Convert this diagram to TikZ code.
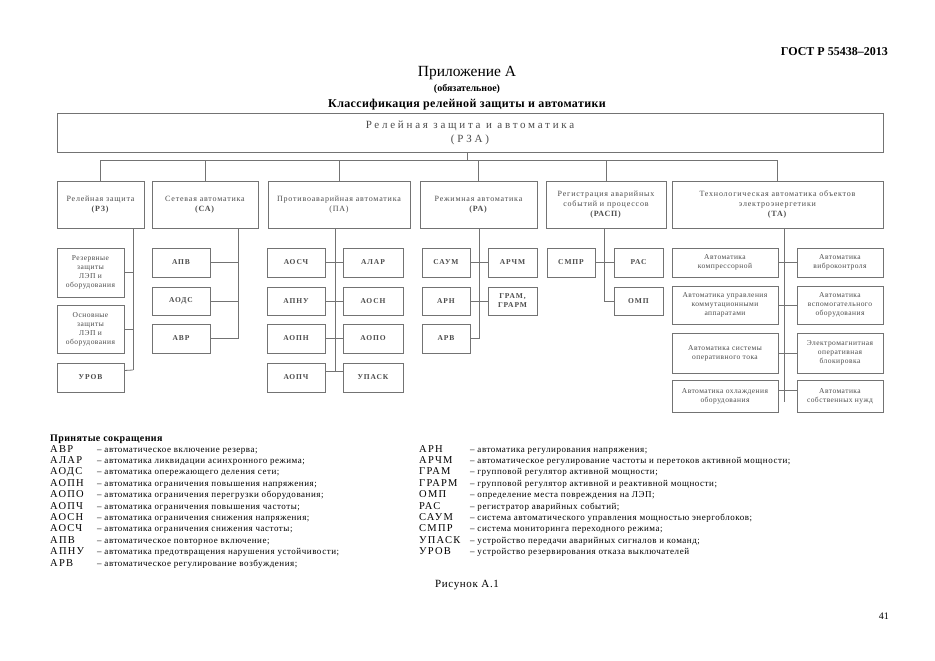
\documentclass[tikz,border=0pt]{standalone}
\usepackage{fontspec}
\setmainfont{Liberation Serif}
\definecolor{ln}{gray}{0.45}
\definecolor{tx}{gray}{0.3}
\newcommand\mybox[7]{%
 \pgfmathsetmacro\bw{#5-#3}\pgfmathsetmacro\bh{#6-#4}%
 \pgfmathsetmacro\bcx{(#3+#5)/2}\pgfmathsetmacro\bcy{(#4+#6)/2}%
 \node[#1, minimum width=\bw pt, minimum height=\bh pt] (#2) at (\bcx,\bcy) {#7};}
\begin{document}
\begin{tikzpicture}[x=1pt,y=-1pt,
  bx/.style={draw=ln, line width=0.8pt, align=center, inner sep=1pt, text=tx,
     font=\fontsize{7.5}{9}\selectfont\addfontfeature{LetterSpace=6}},
  ab/.style={bx, font=\bfseries\fontsize{7.5}{9}\selectfont\addfontfeature{LetterSpace=12}},
  tb/.style={bx, font=\fontsize{8}{10}\selectfont\addfontfeature{LetterSpace=10}},
  conn/.style={draw=ln, line width=0.8pt},
  li/.style={anchor=base west, inner sep=0pt, font=\fontsize{9}{10}\selectfont\addfontfeature{LetterSpace=6}},
  la/.style={anchor=base west, inner sep=0pt, font=\fontsize{10.5}{11}\selectfont\addfontfeature{LetterSpace=12}}]
\useasboundingbox[fill=white] (0,0) rectangle (935,661);
% header
\node[anchor=base east, inner sep=0pt, font=\bfseries\fontsize{12}{13}\selectfont] (gost) at (888,56) {ГОСТ Р 55438–2013};
\node[anchor=base, inner sep=0pt, font=\fontsize{15.5}{17}\selectfont] (app) at (467,77) {Приложение А};
\node[anchor=base, inner sep=0pt, font=\bfseries\fontsize{10}{11}\selectfont] (obz) at (467,92) {(обязательное)};
\node[anchor=base, inner sep=0pt, font=\bfseries\fontsize{12}{13}\selectfont\addfontfeature{LetterSpace=3}] (cls) at (467,107) {Классификация релейной защиты и автоматики};
% main box
\mybox{bx,font=\fontsize{11}{14}\selectfont\addfontfeature{LetterSpace=25}}{rza}{57}{113}{883}{152}{Релейная защита и автоматика\\(РЗА)}
% top level
\mybox{tb}{rz}{57}{181}{144}{228}{Релейная защита\\\textbf{(РЗ)}}
\mybox{tb}{sa}{152}{181}{258}{228}{Сетевая автоматика\\\textbf{(СА)}}
\mybox{tb}{pa}{268}{181}{410}{228}{Противоаварийная автоматика\\(ПА)}
\mybox{tb}{ra}{420}{181}{537}{228}{Режимная автоматика\\\textbf{(РА)}}
\mybox{tb}{rasp}{546}{181}{666}{228}{Регистрация аварийных\\событий и процессов\\\textbf{(РАСП)}}
\mybox{tb}{ta}{672}{181}{883}{228}{Технологическая автоматика объектов\\электроэнергетики\\\textbf{(ТА)}}
\coordinate (bus) at (467,160);
\draw[conn] (rza.south -| bus) -- (bus);
\draw[conn] (rz.north) -- (rz.north |- bus) -- (ta.north |- bus) -- (ta.north);
\draw[conn] (sa.north) -- (sa.north |- bus);
\draw[conn] (pa.north) -- (pa.north |- bus);
\draw[conn] (ra.north) -- (ra.north |- bus);
\draw[conn] (rasp.north) -- (rasp.north |- bus);
% RZ
\mybox{bx}{rez}{57}{248}{124}{297}{Резервные\\защиты\\ЛЭП и\\оборудования}
\mybox{bx}{osn}{57}{305}{124}{353}{Основные\\защиты\\ЛЭП и\\оборудования}
\mybox{ab}{urov}{57}{363}{124}{392}{УРОВ}
\coordinate (rzS) at (133,370);
\draw[conn] (rz.south -| rzS) -- (rzS);
\draw[conn] (rez.east) -- (rez.east -| rzS);
\draw[conn] (osn.east) -- (osn.east -| rzS);
\draw[conn] ([yshift=7pt]urov.east) -- (rzS);
% SA
\mybox{ab}{apv}{152}{248}{210}{277}{АПВ}
\mybox{ab}{aods}{152}{287}{210}{315}{АОДС}
\mybox{ab}{avr}{152}{324}{210}{353}{АВР}
\coordinate (saS) at (238,0);
\draw[conn] (sa.south -| saS) -- (avr.east -| saS) -- (avr.east);
\draw[conn] (apv.east) -- (apv.east -| saS);
\draw[conn] (aods.east) -- (aods.east -| saS);
% PA
\mybox{ab}{aosch}{267}{248}{325}{277}{АОСЧ}
\mybox{ab}{alar}{343}{248}{403}{277}{АЛАР}
\mybox{ab}{apnu}{267}{287}{325}{315}{АПНУ}
\mybox{ab}{aosn}{343}{287}{403}{315}{АОСН}
\mybox{ab}{aopn}{267}{324}{325}{353}{АОПН}
\mybox{ab}{aopo}{343}{324}{403}{353}{АОПО}
\mybox{ab}{aopch}{267}{363}{325}{392}{АОПЧ}
\mybox{ab}{upask}{343}{363}{403}{392}{УПАСК}
\coordinate (paS) at (335,371);
\draw[conn] (pa.south -| paS) -- (paS);
\draw[conn] (aosch.east) -- (alar.west);
\draw[conn] (apnu.east) -- (aosn.west);
\draw[conn] (aopn.east) -- (aopo.west);
\draw[conn] ([yshift=6pt]aopch.east) -- ([yshift=6pt]upask.west);
% RA
\mybox{ab}{saum}{422}{248}{470}{277}{САУМ}
\mybox{ab}{archm}{488}{248}{537}{277}{АРЧМ}
\mybox{ab}{arn}{422}{287}{470}{315}{АРН}
\mybox{ab}{gram}{488}{287}{537}{315}{ГРАМ,\\ГРАРМ}
\mybox{ab}{arv}{422}{324}{470}{353}{АРВ}
\coordinate (raS) at (479,0);
\draw[conn] (ra.south -| raS) -- (arv.east -| raS) -- (arv.east);
\draw[conn] (saum.east) -- (archm.west);
\draw[conn] (arn.east) -- (gram.west);
% RASP
\mybox{ab}{smpr}{547}{248}{595}{277}{СМПР}
\mybox{ab}{ras}{614}{248}{663}{277}{РАС}
\mybox{ab}{omp}{614}{287}{663}{315}{ОМП}
\coordinate (rsS) at (604,0);
\draw[conn] (rasp.south -| rsS) -- (omp.west -| rsS) -- (omp.west);
\draw[conn] (smpr.east) -- (ras.west);
% TA
\mybox{bx}{kom}{672}{248}{778}{277}{Автоматика\\компрессорной}
\mybox{bx}{vib}{797}{248}{883}{277}{Автоматика\\виброконтроля}
\mybox{bx}{kap}{672}{286}{778}{324}{Автоматика управления\\коммутационными\\аппаратами}
\mybox{bx}{vsp}{797}{286}{883}{324}{Автоматика\\вспомогательного\\оборудования}
\mybox{bx}{opt}{672}{333}{778}{373}{Автоматика системы\\оперативного тока}
\mybox{bx}{blk}{797}{333}{883}{373}{Электромагнитная\\оперативная\\блокировка}
\mybox{bx}{ohl}{672}{380}{778}{412}{Автоматика охлаждения\\оборудования}
\mybox{bx}{snu}{797}{380}{883}{412}{Автоматика\\собственных нужд}
\coordinate (taS) at (784,402);
\draw[conn] (ta.south -| taS) -- (taS);
\draw[conn] (kom.east) -- (vib.west);
\draw[conn] (kap.east) -- (vsp.west);
\draw[conn] (opt.east) -- (blk.west);
\draw[conn] ([yshift=6pt]ohl.east) -- ([yshift=6pt]snu.west);
% abbreviations
\node[anchor=base west, inner sep=0pt, font=\bfseries\fontsize{10}{11}\selectfont\addfontfeature{LetterSpace=4}] (hdr) at (50,441) {Принятые сокращения};
\foreach \i/\a/\d in {0/АВР/автоматическое включение резерва;,
 1/АЛАР/автоматика ликвидации асинхронного режима;,
 2/АОДС/автоматика опережающего деления сети;,
 3/АОПН/автоматика ограничения повышения напряжения;,
 4/АОПО/автоматика ограничения перегрузки оборудования;,
 5/АОПЧ/автоматика ограничения повышения частоты;,
 6/АОСН/автоматика ограничения снижения напряжения;,
 7/АОСЧ/автоматика ограничения снижения частоты;,
 8/АПВ/автоматическое повторное включение;,
 9/АПНУ/автоматика предотвращения нарушения устойчивости;,
 10/АРВ/автоматическое регулирование возбуждения;}{
 \node[la] (la\i) at (50,{452+11.4*\i}) {\a};
 \node[li] (ld\i) at (97,{452+11.4*\i}) {– \d};
}
\foreach \i/\a/\d in {0/АРН/автоматика регулирования напряжения;,
 1/АРЧМ/автоматическое регулирование частоты и перетоков активной мощности;,
 2/ГРАМ/групповой регулятор активной мощности;,
 3/ГРАРМ/групповой регулятор активной и реактивной мощности;,
 4/ОМП/определение места повреждения на ЛЭП;,
 5/РАС/регистратор аварийных событий;,
 6/САУМ/система автоматического управления мощностью энергоблоков;,
 7/СМПР/система мониторинга переходного режима;,
 8/УПАСК/устройство передачи аварийных сигналов и команд;,
 9/УРОВ/устройство резервирования отказа выключателей}{
 \node[la] (ra\i) at (419,{452+11.4*\i}) {\a};
 \node[li] (rd\i) at (470,{452+11.4*\i}) {– \d};
}
\node[anchor=base, inner sep=0pt, font=\fontsize{11}{12}\selectfont\addfontfeature{LetterSpace=6}] (fig) at (467,587) {Рисунок А.1};
\node[anchor=base east, inner sep=0pt, font=\fontsize{10}{11}\selectfont] (pg) at (889,619) {41};
\end{tikzpicture}
\end{document}
